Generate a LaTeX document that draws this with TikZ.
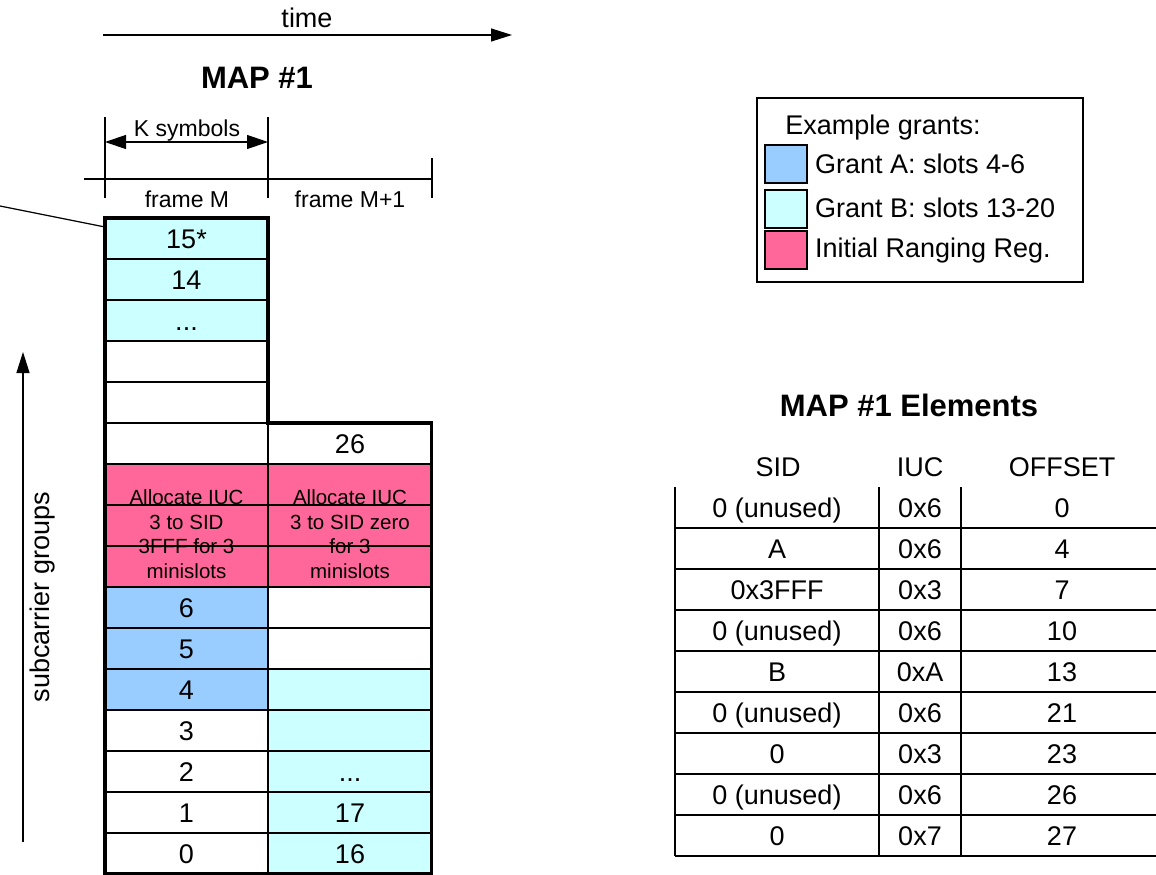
\documentclass[tikz,border=0pt]{standalone}
\usepackage{fontspec}
\setmainfont{Liberation Sans}
\usetikzlibrary{arrows.meta}
\definecolor{grantA}{HTML}{99CCFF}
\definecolor{grantB}{HTML}{CCFFFF}
\definecolor{ranging}{HTML}{FF6699}
\begin{document}
\begin{tikzpicture}[x=1pt,y=-1pt,
  every node/.style={inner sep=0pt, outer sep=0pt},
  txt/.style={font=\fontsize{27}{30}\selectfont, text height=19.3pt, text depth=0pt},
  smalltxt/.style={font=\fontsize{23}{26}\selectfont, text height=16.5pt, text depth=0pt},
  titletxt/.style={font=\fontsize{31}{34}\selectfont\bfseries, text height=22.2pt, text depth=0pt},
  pinktxt/.style={font=\fontsize{20.5}{24.5}\selectfont, align=center},
  thin/.style={line width=1.2pt},
  cell/.style={draw=black, line width=1.2pt, minimum width=163pt, minimum height=41pt, txt},
  swatch/.style={draw=black, line width=1.2pt, minimum width=42pt, minimum height=38pt},
  arr/.style={thin, -{Triangle[length=21pt,width=13pt]}},
  dblarr/.style={thin, {Triangle[length=21pt,width=14pt]}-{Triangle[length=21pt,width=14pt]}}
]
\useasboundingbox (0,0) rectangle (1156,875);

% ---- time arrow and title
\coordinate (t0) at (103,35);
\coordinate (t1) at (512,35);
\draw[arr] (t0) -- (t1);
\node[txt] (timelbl) at (307,18) {time};
\node[titletxt] (map1) at (257,77) {MAP \#1};

% ---- K symbols / frame ruler
\coordinate (k0t) at (105,117); \coordinate (k0b) at (105,198);
\coordinate (k1t) at (268,117); \coordinate (k1b) at (268,198);
\coordinate (k2t) at (432,158); \coordinate (k2b) at (432,198);
\coordinate (rl) at (84,179); \coordinate (rr) at (432,179);
\draw[thin] (k0t) -- (k0b);
\draw[thin] (k1t) -- (k1b);
\draw[thin] (k2t) -- (k2b);
\draw[thin] (rl) -- (rr);
\coordinate (ka) at (105,142); \coordinate (kb) at (268,142);
\draw[dblarr] (ka) -- (kb);
\node[smalltxt] (ksym) at (187,128) {K symbols};
\node[smalltxt] (frM) at (187,199) {frame M};
\node[smalltxt] (frM1) at (350,199) {frame M+1};

% ---- subcarrier axis
\coordinate (s0) at (23,842);
\coordinate (s1) at (23,352);
\draw[arr] (s0) -- (s1);
\node[txt, rotate=90] (sub) at (40,597) {subcarrier groups};

% ---- left column (frame M)
\node[cell, fill=grantB] (L15) at (186.5,238.5) {15*};
\node[cell, fill=grantB] (L14) at (186.5,279.5) {14};
\node[cell, fill=grantB] (L13) at (186.5,320.5) {...};
\node[cell] (L12) at (186.5,361.5) {};
\node[cell] (L11) at (186.5,402.5) {};
\node[cell] (L10) at (186.5,443.5) {};
\node[cell, fill=ranging] (L9) at (186.5,484.5) {};
\node[cell, fill=ranging] (L8) at (186.5,525.5) {};
\node[cell, fill=ranging] (L7) at (186.5,566.5) {};
\node[cell, fill=grantA] (L6) at (186.5,607.5) {6};
\node[cell, fill=grantA] (L5) at (186.5,648.5) {5};
\node[cell, fill=grantA] (L4) at (186.5,689.5) {4};
\node[cell] (L3) at (186.5,730.5) {3};
\node[cell] (L2) at (186.5,771.5) {2};
\node[cell] (L1) at (186.5,812.5) {1};
\node[cell] (L0) at (186.5,853.5) {0};

% ---- right column (frame M+1)
\node[cell] (R10) at (350,443.5) {26};
\node[cell, fill=ranging] (R9) at (350,484.5) {};
\node[cell, fill=ranging] (R8) at (350,525.5) {};
\node[cell, fill=ranging] (R7) at (350,566.5) {};
\node[cell] (R6) at (350,607.5) {};
\node[cell] (R5) at (350,648.5) {};
\node[cell, fill=grantB] (R4) at (350,689.5) {};
\node[cell, fill=grantB] (R3) at (350,730.5) {};
\node[cell, fill=grantB] (R2) at (350,771.5) {...};
\node[cell, fill=grantB] (R1) at (350,812.5) {17};
\node[cell, fill=grantB] (R0) at (350,853.5) {16};

% ---- ranging texts (grid lines drawn over them)
\node[pinktxt] (rgL) at (186.5,534) {Allocate IUC\\3 to SID\\3FFF for 3\\minislots};
\node[pinktxt] (rgR) at (350,534) {Allocate IUC\\3 to SID zero\\for 3\\minislots};
\draw[thin] (L9.south west) -- (R9.south east);
\draw[thin] (L8.south west) -- (R8.south east);
\draw[thin] (L9.north east) -- (L7.south east);

% ---- thick outline
\draw[line width=3.5pt, line join=miter]
  (L15.north west) -- (L15.north east) -- (L11.south east) -- (R10.north east)
  -- (R0.south east) -- (L0.south west) -- cycle;
\coordinate (lead) at (0,206);
\coordinate (leadend) at (105,227);
\draw[thin] (lead) -- (leadend);

% ---- legend
\node[draw=black, line width=1.2pt, fill=white, minimum width=326pt, minimum height=184pt] (legend) at (920,190) {};
\node[txt] (legtitle) at (883,125) {Example grants:};
\node[swatch, fill=grantA] (swA) at (786,164) {};
\node[swatch, fill=grantB] (swB) at (786,209) {};
\node[swatch, fill=ranging] (swR) at (786,250) {};
\node[txt, anchor=west] (lgA) at (815,164) {Grant A: slots 4-6};
\node[txt, anchor=west] (lgB) at (815,208) {Grant B: slots 13-20};
\node[txt, anchor=west] (lgR) at (815,248) {Initial Ranging Reg.};

% ---- MAP elements table
\node[titletxt] (eltitle) at (909,405) {MAP \#1 Elements};
\node[txt] (hSID) at (778,467) {SID};
\node[txt] (hIUC) at (920,467) {IUC};
\node[txt] (hOFF) at (1062,467) {OFFSET};
\draw[thin] (675,487) -- (675,856);
\draw[thin] (879,487) -- (879,856);
\draw[thin] (961,487) -- (961,856);
\foreach \k in {0,...,8} {
  \draw[thin] (675,528+41*\k) -- (1156,528+41*\k);
}
\foreach \k/\s/\i/\o in {0/0 (unused)/0x6/0, 1/A/0x6/4, 2/0x3FFF/0x3/7, 3/0 (unused)/0x6/10,
  4/B/0xA/13, 5/0 (unused)/0x6/21, 6/0/0x3/23, 7/0 (unused)/0x6/26, 8/0/0x7/27} {
  \node[txt] (s\k) at (777,507.5+41*\k) {\s};
  \node[txt] (i\k) at (920,507.5+41*\k) {\i};
  \node[txt] (o\k) at (1062,507.5+41*\k) {\o};
}
\end{tikzpicture}
\end{document}
